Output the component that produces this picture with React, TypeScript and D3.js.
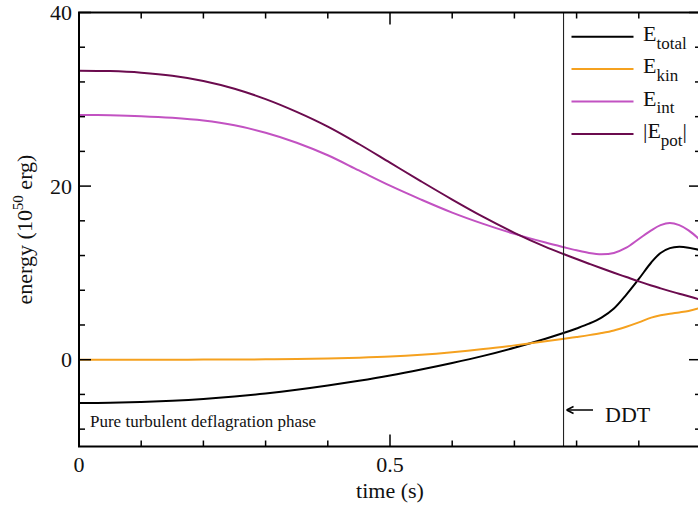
import React from "react";
import * as d3 from "d3";

const times = [0, 0.05, 0.1, 0.15, 0.2, 0.25, 0.3, 0.35, 0.4, 0.45, 0.5, 0.55, 0.6, 0.65, 0.7, 0.75, 0.78, 0.8, 0.82, 0.84, 0.86, 0.88, 0.9, 0.92, 0.935, 0.95, 0.965, 0.98, 1.0];

const eTotal = [-5.0, -4.97, -4.88, -4.73, -4.52, -4.24, -3.89, -3.47, -2.98, -2.43, -1.82, -1.13, -0.38, 0.44, 1.38, 2.42, 3.1, 3.6, 4.15, 4.85, 5.9, 7.5, 9.3, 11.2, 12.3, 12.85, 13.0, 12.9, 12.6];
const eKin = [0, 0, 0, 0.005, 0.01, 0.02, 0.04, 0.08, 0.14, 0.23, 0.36, 0.57, 0.86, 1.22, 1.65, 2.12, 2.42, 2.62, 2.83, 3.07, 3.37, 3.8, 4.3, 4.85, 5.12, 5.3, 5.45, 5.62, 6.0];
const eInt = [28.2, 28.16, 28.06, 27.87, 27.55, 27.0, 26.15, 25.0, 23.55, 21.8, 20.05, 18.45, 16.95, 15.65, 14.5, 13.5, 12.95, 12.6, 12.3, 12.15, 12.3, 12.9, 13.9, 14.9, 15.5, 15.75, 15.5, 14.9, 13.7];
const ePot = [33.3, 33.25, 33.07, 32.72, 32.12, 31.22, 30.02, 28.55, 26.85, 24.85, 22.7, 20.55, 18.45, 16.45, 14.62, 13.0, 12.15, 11.6, 11.06, 10.53, 10.02, 9.52, 9.02, 8.55, 8.22, 7.9, 7.6, 7.3, 6.9];

const seriesNames = ["total", "kin", "int", "pot"];
const seriesColors = ["#000000", "#f5a11f", "#c252c2", "#6b0b4e"];
const seriesValues = [eTotal, eKin, eInt, ePot];

const yMajorTicks = [0, 20, 40];
const yMinorTicks = [-8, -4, 4, 8, 12, 16, 24, 28, 32, 36];
const xTicks = [0, 0.1, 0.2, 0.3, 0.4, 0.5, 0.6, 0.7, 0.8, 0.9, 1.0];
const xLabels = [0, 0.5];
const ddtTime = 0.779;

const W = 698;
const H = 508;
const left = 79;
const right = 701;
const top = 12.5;
const bottom = 446.5;
const FONT = "'Liberation Serif', 'Times New Roman', serif";

export default function App() {
  const x = d3.scaleLinear().domain([0, 1]).range([left, right]);
  const y = d3.scaleLinear().domain([-10, 40]).range([bottom, top]);

  const line = d3
    .line<[number, number]>()
    .x((d) => x(d[0]))
    .y((d) => y(d[1]))
    .curve(d3.curveCatmullRom.alpha(0.5));

  const majorLen = 12;
  const minorLen = 6;

  const legendY0 = 36.7;
  const legendStep = 32.4;

  return (
    <svg
      width={W}
      height={H}
      style={{ position: "absolute", left: 0, top: 0, background: "#fff" }}
      fontFamily={FONT}
    >
      <defs>
        <clipPath id="plotclip">
          <rect x={left} y={top} width={right - left} height={bottom - top} />
        </clipPath>
      </defs>
      <rect x={0} y={0} width={W} height={H} fill="#fff" />

      {/* series */}
      <g clipPath="url(#plotclip)">
        {seriesValues.map((vals, i) => (
          <path
            key={seriesNames[i]}
            d={line(times.map((t, j) => [t, vals[j]]) as [number, number][]) || ""}
            fill="none"
            stroke={seriesColors[i]}
            strokeWidth={2}
          />
        ))}
      </g>

      {/* DDT line */}
      <line x1={x(ddtTime)} x2={x(ddtTime)} y1={top} y2={bottom} stroke="#222" strokeWidth={1.1} />

      {/* frame */}
      <rect x={left} y={top} width={right - left} height={bottom - top} fill="none" stroke="#000" strokeWidth={2} />

      {/* x ticks bottom & top */}
      {xTicks.map((t) => {
        const major = Math.abs(t * 2 - Math.round(t * 2)) < 1e-6;
        const len = major ? majorLen : minorLen;
        return (
          <g key={"xt" + t}>
            <line x1={x(t)} x2={x(t)} y1={bottom} y2={bottom - len} stroke="#000" strokeWidth={1.5} />
            <line x1={x(t)} x2={x(t)} y1={top} y2={top + len} stroke="#000" strokeWidth={1.5} />
          </g>
        );
      })}
      {xLabels.map((t) => (
        <text key={"xl" + t} x={x(t)} y={472} textAnchor="middle" fontSize={22} fill="#111">
          {t === 0 ? "0" : String(t)}
        </text>
      ))}

      {/* y ticks left & right */}
      {yMajorTicks.map((v) => (
        <g key={"ym" + v}>
          <line x1={left} x2={left + majorLen} y1={y(v)} y2={y(v)} stroke="#000" strokeWidth={1.5} />
          <line x1={right} x2={right - majorLen} y1={y(v)} y2={y(v)} stroke="#000" strokeWidth={1.5} />
          <text x={72} y={y(v) + 7.5} textAnchor="end" fontSize={22} fill="#111">
            {v}
          </text>
        </g>
      ))}
      {yMinorTicks.map((v) => (
        <g key={"yn" + v}>
          <line x1={left} x2={left + minorLen} y1={y(v)} y2={y(v)} stroke="#000" strokeWidth={1.5} />
          <line x1={right} x2={right - minorLen} y1={y(v)} y2={y(v)} stroke="#000" strokeWidth={1.5} />
        </g>
      ))}

      {/* axis titles */}
      <text x={x(0.5)} y={498} textAnchor="middle" fontSize={22} fill="#111">
        time (s)
      </text>
      <text
        transform={`translate(32, ${(top + bottom) / 2}) rotate(-90)`}
        textAnchor="middle"
        fontSize={22}
        fill="#111"
      >
        energy (10
        <tspan fontSize={15} dy={-9}>
          50
        </tspan>
        <tspan dy={9}> erg)</tspan>
      </text>

      {/* annotations */}
      <text x={90} y={426.5} fontSize={17} fill="#111">
        Pure turbulent deflagration phase
      </text>
      <line x1={x(ddtTime) + 4} x2={593} y1={410} y2={410} stroke="#000" strokeWidth={1.5} />
      <path
        d={`M${x(ddtTime) + 3},410 L${x(ddtTime) + 10},406.5 M${x(ddtTime) + 3},410 L${x(ddtTime) + 10},413.5`}
        stroke="#000"
        strokeWidth={1.5}
        fill="none"
      />
      <text x={605} y={421.5} fontSize={22} fill="#111">
        DDT
      </text>

      {/* legend */}
      {seriesNames.map((name, i) => {
        const ly = legendY0 + i * legendStep;
        const isPot = name === "pot";
        return (
          <g key={"lg" + name}>
            <line x1={571.5} x2={633.5} y1={ly} y2={ly} stroke={seriesColors[i]} strokeWidth={2} />
            <text x={643} y={ly + 4.2} fontSize={22} fill="#111">
              {isPot ? "|E" : "E"}
              <tspan fontSize={17} dy={7.6}>
                {name}
              </tspan>
              {isPot ? <tspan dy={-7.6}>|</tspan> : null}
            </text>
          </g>
        );
      })}
    </svg>
  );
}
